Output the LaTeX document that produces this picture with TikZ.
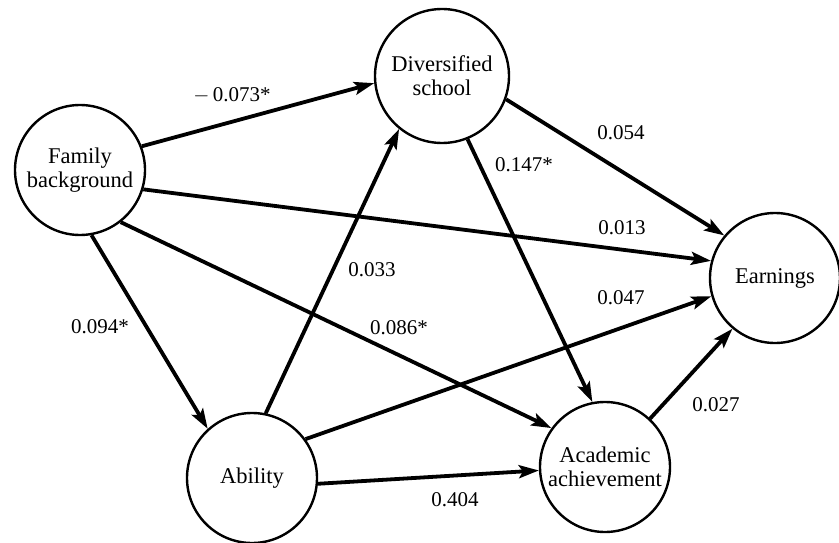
\documentclass[tikz,border=0pt]{standalone}
\usepackage{fontspec}
\setmainfont{Liberation Serif}
\usetikzlibrary{arrows.meta}

\begin{document}
\begin{tikzpicture}[x=1pt,y=-1pt,
  var/.style={circle, draw, line width=2.4pt, minimum size=130pt, inner sep=0pt,
              align=center, font=\fontsize{22.5}{24}\selectfont},
  path/.style={line width=3.8pt, -{Stealth[length=20pt,width=13pt,inset=4pt]}},
  coef/.style={font=\fontsize{21}{23}\selectfont, inner sep=1pt}]
\useasboundingbox (0,0) rectangle (839,543);

% variables of the path model
\node[var] (fam) at (80,170)  {Family\\background};
\node[var, minimum size=134pt] (div) at (442,76) {Diversified\\school};
\node[var] (earn) at (775,278) {Earnings};
\node[var] (abil) at (252,478) {Ability};
\node[var] (acad) at (605,467) {Academic\\achievement};

% paths
\draw[path] (fam.21)  -- (div.186);
\draw[path] (fam.-17) -- (earn.165);
\draw[path] (fam.-80) -- (abil.132);
\draw[path] (fam.-52) -- (acad.144);
\draw[path] (div.-20) -- (earn.140);
\draw[path] (div.-68) -- (acad.101);
\draw[path] (abil.78) -- (div.-129);
\draw[path] (abil.36) -- (earn.-164);
\draw[path] (abil.-5) -- (acad.183);
\draw[path] (acad.47) -- (earn.-130);

% path coefficients
\node[coef] (c1)  at (232,95)  {$-$\,0.073*};
\node[coef] (c2)  at (621,133) {0.054};
\node[coef] (c3)  at (524,165) {0.147*};
\node[coef] (c4)  at (622,228) {0.013};
\node[coef] (c5)  at (372,270) {0.033};
\node[coef] (c6)  at (621,298) {0.047};
\node[coef] (c7)  at (100,327) {0.094*};
\node[coef] (c8)  at (399,328) {0.086*};
\node[coef] (c9)  at (716,405) {0.027};
\node[coef] (c10) at (455,500) {0.404};
\end{tikzpicture}
\end{document}
